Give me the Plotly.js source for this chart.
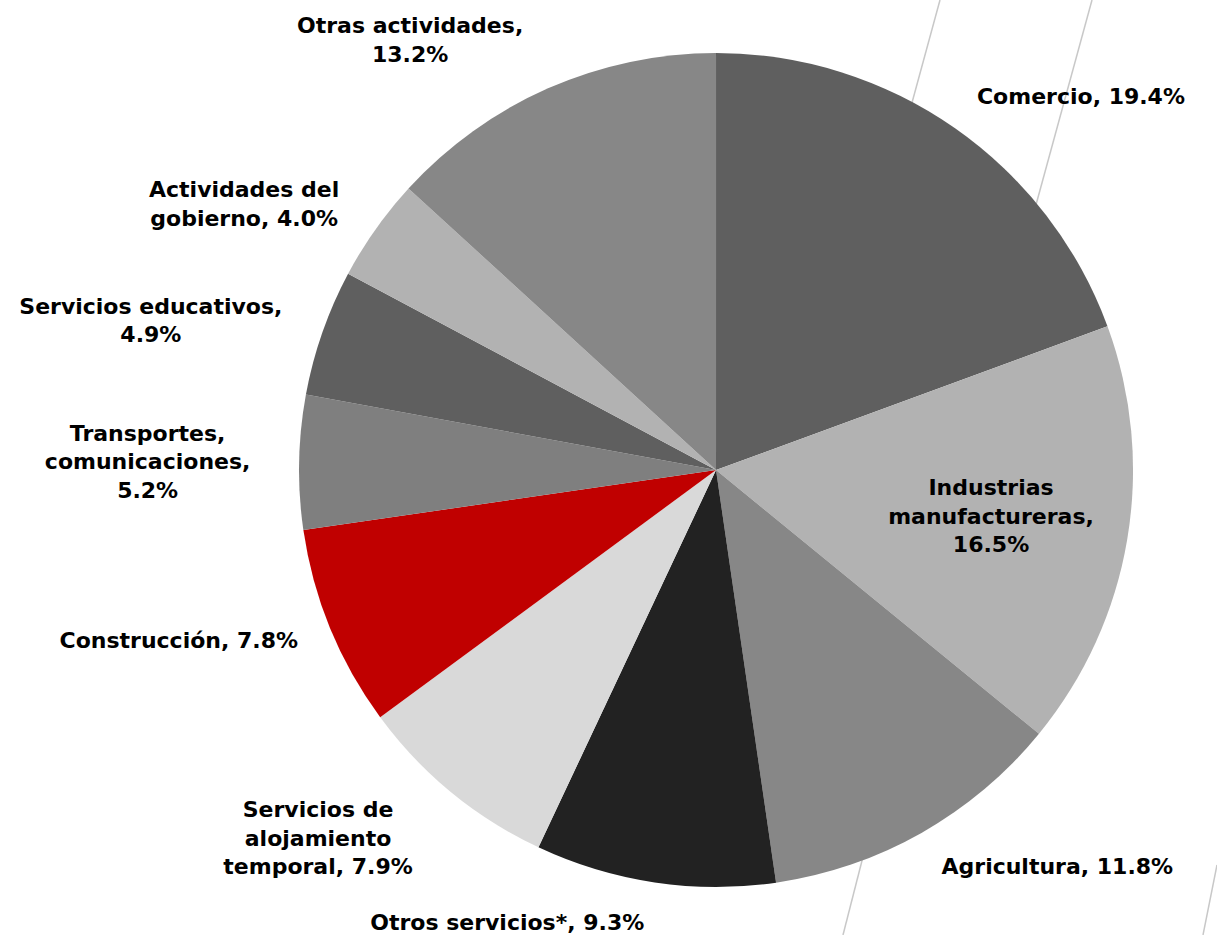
<!DOCTYPE html>
<html>
<head>
<meta charset="utf-8">
<script src="https://cdn.plot.ly/plotly-3.0.1.min.js"></script>
<style>html,body{margin:0;padding:0;background:#fff;}#chart{width:1217px;height:935px;}</style>
</head>
<body>
<div id="chart"></div>
<script>
var categories = ["Comercio", "Industrias manufactureras", "Agricultura", "Otros servicios*",
  "Servicios de alojamiento temporal", "Construcción", "Transportes, comunicaciones",
  "Servicios educativos", "Actividades del gobierno", "Otras actividades"];
var shares = [19.4, 16.5, 11.8, 9.3, 7.9, 7.8, 5.2, 4.9, 4.0, 13.2];
var labelText = ["Comercio, 19.4%", "Industrias<br>manufactureras,<br>16.5%", "Agricultura, 11.8%",
  "Otros servicios*, 9.3%", "Servicios de<br>alojamiento<br>temporal, 7.9%", "Construcción, 7.8%",
  "Transportes,<br>comunicaciones,<br>5.2%", "Servicios educativos,<br>4.9%",
  "Actividades del<br>gobierno, 4.0%", "Otras actividades,<br>13.2%"];
var sliceColors = ["#5f5f5f", "#b2b2b2", "#878787", "#222222", "#d9d9d9", "#c00000",
  "#7f7f7f", "#5f5f5f", "#b2b2b2", "#878787"];
var textPos = ["outside", "inside", "outside", "outside", "outside", "outside",
  "outside", "outside", "outside", "outside"];

var font = {family: "DejaVu Sans", size: 22, color: "#000", weight: "bold"};

// visible pie: slices plus the inside label
var pieMain = {
  type: "pie",
  labels: categories,
  values: shares,
  text: labelText.map(function (t, i) { return textPos[i] === "inside" ? t : ""; }),
  textinfo: "text",
  textposition: "inside",
  insidetextorientation: "horizontal",
  sort: false,
  direction: "clockwise",
  rotation: 0,
  marker: {colors: sliceColors, line: {width: 0}},
  textfont: font,
  insidetextfont: font,
  domain: {x: [0.2457, 0.9310], y: [0.0513, 0.9433]},
  showlegend: false,
  hoverinfo: "label+percent"
};

// transparent, slightly larger pie that carries the outside labels
var pieLabels = {
  type: "pie",
  labels: categories,
  values: shares,
  text: labelText.map(function (t, i) { return textPos[i] === "outside" ? t : ""; }),
  textinfo: "text",
  textposition: "outside",
  sort: false,
  direction: "clockwise",
  rotation: 0,
  marker: {colors: sliceColors.map(function () { return "rgba(0,0,0,0)"; }), line: {width: 0}},
  textfont: font,
  outsidetextfont: font,
  domain: {x: [0.2226, 0.9540], y: [0.0213, 0.9733]},
  showlegend: false,
  hoverinfo: "skip"
};

var lineStyle = {color: "#c8c8c8", width: 1.5};
var layout = {
  width: 1217, height: 935,
  margin: {l: 0, r: 0, t: 0, b: 0},
  paper_bgcolor: "#fff",
  showlegend: false,
  shapes: [
    {type: "line", xref: "paper", yref: "paper", x0: 940/1217, y0: 1, x1: 880/1217, y1: 1 - 220/935, line: lineStyle, layer: "below"},
    {type: "line", xref: "paper", yref: "paper", x0: 1092/1217, y0: 1, x1: 1025/1217, y1: 1 - 245/935, line: lineStyle, layer: "below"},
    {type: "line", xref: "paper", yref: "paper", x0: 866/1217, y0: 1 - 845/935, x1: 843/1217, y1: 0, line: lineStyle, layer: "below"},
    {type: "line", xref: "paper", yref: "paper", x0: 1217/1217, y0: 1 - 865/935, x1: 1203/1217, y1: 0, line: lineStyle, layer: "below"}
  ]
};

Plotly.newPlot("chart", [pieMain, pieLabels], layout, {displayModeBar: false, staticPlot: true});
</script>
</body>
</html>
